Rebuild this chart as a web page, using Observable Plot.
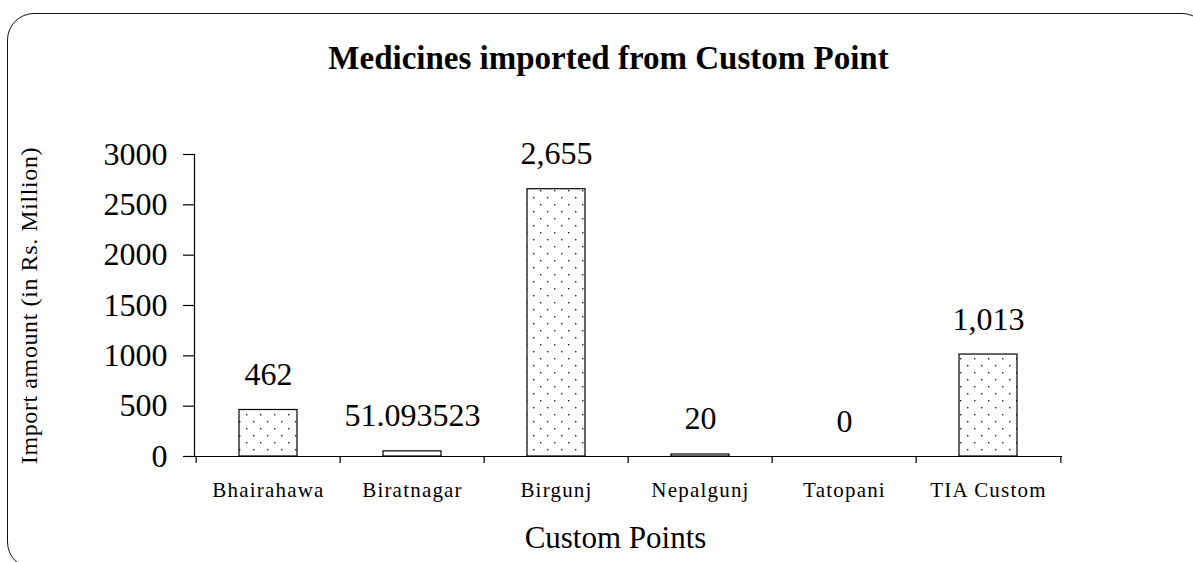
<!DOCTYPE html>
<html><head><meta charset="utf-8">
<script src="https://cdn.jsdelivr.net/npm/d3@7"></script>
<script src="https://cdn.jsdelivr.net/npm/@observablehq/plot@0.6"></script>
<style>
body{margin:0;background:#fff;}
#wrap{position:relative;width:1193px;height:562px;overflow:hidden;background:#fff;}
#frame{position:absolute;left:7px;top:13px;width:1202px;height:556px;border:1.6px solid #111;border-radius:27px;box-sizing:border-box;}
#chart{position:absolute;left:0;top:0;}
g[aria-label="x-axis tick label"] text{letter-spacing:1.2px;}
</style></head>
<body><div id="wrap"><div id="frame"></div><div id="chart"></div></div>
<script>
const categories = ["Bhairahawa", "Biratnagar", "Birgunj", "Nepalgunj", "Tatopani", "TIA Custom"];
const values = [462, 51.093523, 2655, 20, 0, 1013];
const valueLabels = ["462", "51.093523", "2,655", "20", "0", "1,013"];
const yTicks = [0, 500, 1000, 1500, 2000, 2500, 3000];
const title = "Medicines imported from Custom Point";
const xTitle = "Custom Points";
const yTitle = "Import amount (in Rs. Million)";

const data = categories.map((c, i) => ({category: c, value: values[i], label: valueLabels[i]}));
const W = 1193, H = 562, mL = 194, mR = 131, mT = 154, mB = 106;
const step = (W - mL - mR) / categories.length;
const plotH = H - mT - mB;
const ink = "#000";

const chart = Plot.plot({
  width: W, height: H,
  marginLeft: mL, marginRight: mR, marginTop: mT, marginBottom: mB,
  style: {fontFamily: "'Liberation Serif', 'Times New Roman', serif", color: ink, background: "transparent", overflow: "visible"},
  x: {domain: categories, paddingInner: 0.6, paddingOuter: 0.3, axis: null},
  y: {domain: [0, 3000], axis: null},
  marks: [
    Plot.barY(data, {x: "category", y: "value", fill: "url(#dots)", stroke: ink, strokeWidth: 1.2}),
    Plot.ruleY([0], {stroke: ink, strokeWidth: 1.2}),
    Plot.frame({anchor: "left", stroke: ink, strokeWidth: 1.2}),
    Plot.axisY({ticks: yTicks, tickSize: 11, tickPadding: 16, fontSize: 32, label: null, tickFormat: d => String(d), strokeWidth: 1.2}),
    Plot.axisX({tickSize: 0, tickPadding: 26, fontSize: 21, label: null}),
    Plot.ruleX(categories, {x: d => d, dx: -step / 2, insetTop: plotH - 7, dy: 7, stroke: ink, strokeWidth: 1.2}),
    Plot.ruleX(categories.slice(-1), {x: d => d, dx: step / 2, insetTop: plotH - 7, dy: 7, stroke: ink, strokeWidth: 1.2}),
    Plot.text(data, {x: "category", y: "value", text: "label", dy: -25, lineAnchor: "bottom", fontSize: 32, fill: ink}),
    Plot.text([title], {text: d => d, frameAnchor: "top", dx: -20, dy: -86, lineAnchor: "bottom", fontSize: 33, fontWeight: "bold", fill: ink}),
    Plot.text([xTitle], {text: d => d, frameAnchor: "bottom", dx: -13, dy: 91, lineAnchor: "bottom", fontSize: 31, fill: ink}),
    Plot.text([yTitle], {text: d => d, frameAnchor: "left", textAnchor: "middle", dx: -158, rotate: -90, lineAnchor: "bottom", fontSize: 24, fill: ink})
  ]
});

d3.select(chart).insert("defs", ":first-child").html(
  '<pattern id="dots" width="14" height="14" patternUnits="userSpaceOnUse">' +
  '<rect width="14" height="14" fill="#fff"/>' +
  '<rect x="1" y="1" width="1.4" height="1.4" fill="#222"/>' +
  '<rect x="8" y="8" width="1.4" height="1.4" fill="#222"/></pattern>'
);
d3.select(chart).selectAll("text").filter(function () { return this.textContent === yTitle; })
  .style("letter-spacing", "0.6px");
document.getElementById("chart").appendChild(chart);
</script>
</body></html>
